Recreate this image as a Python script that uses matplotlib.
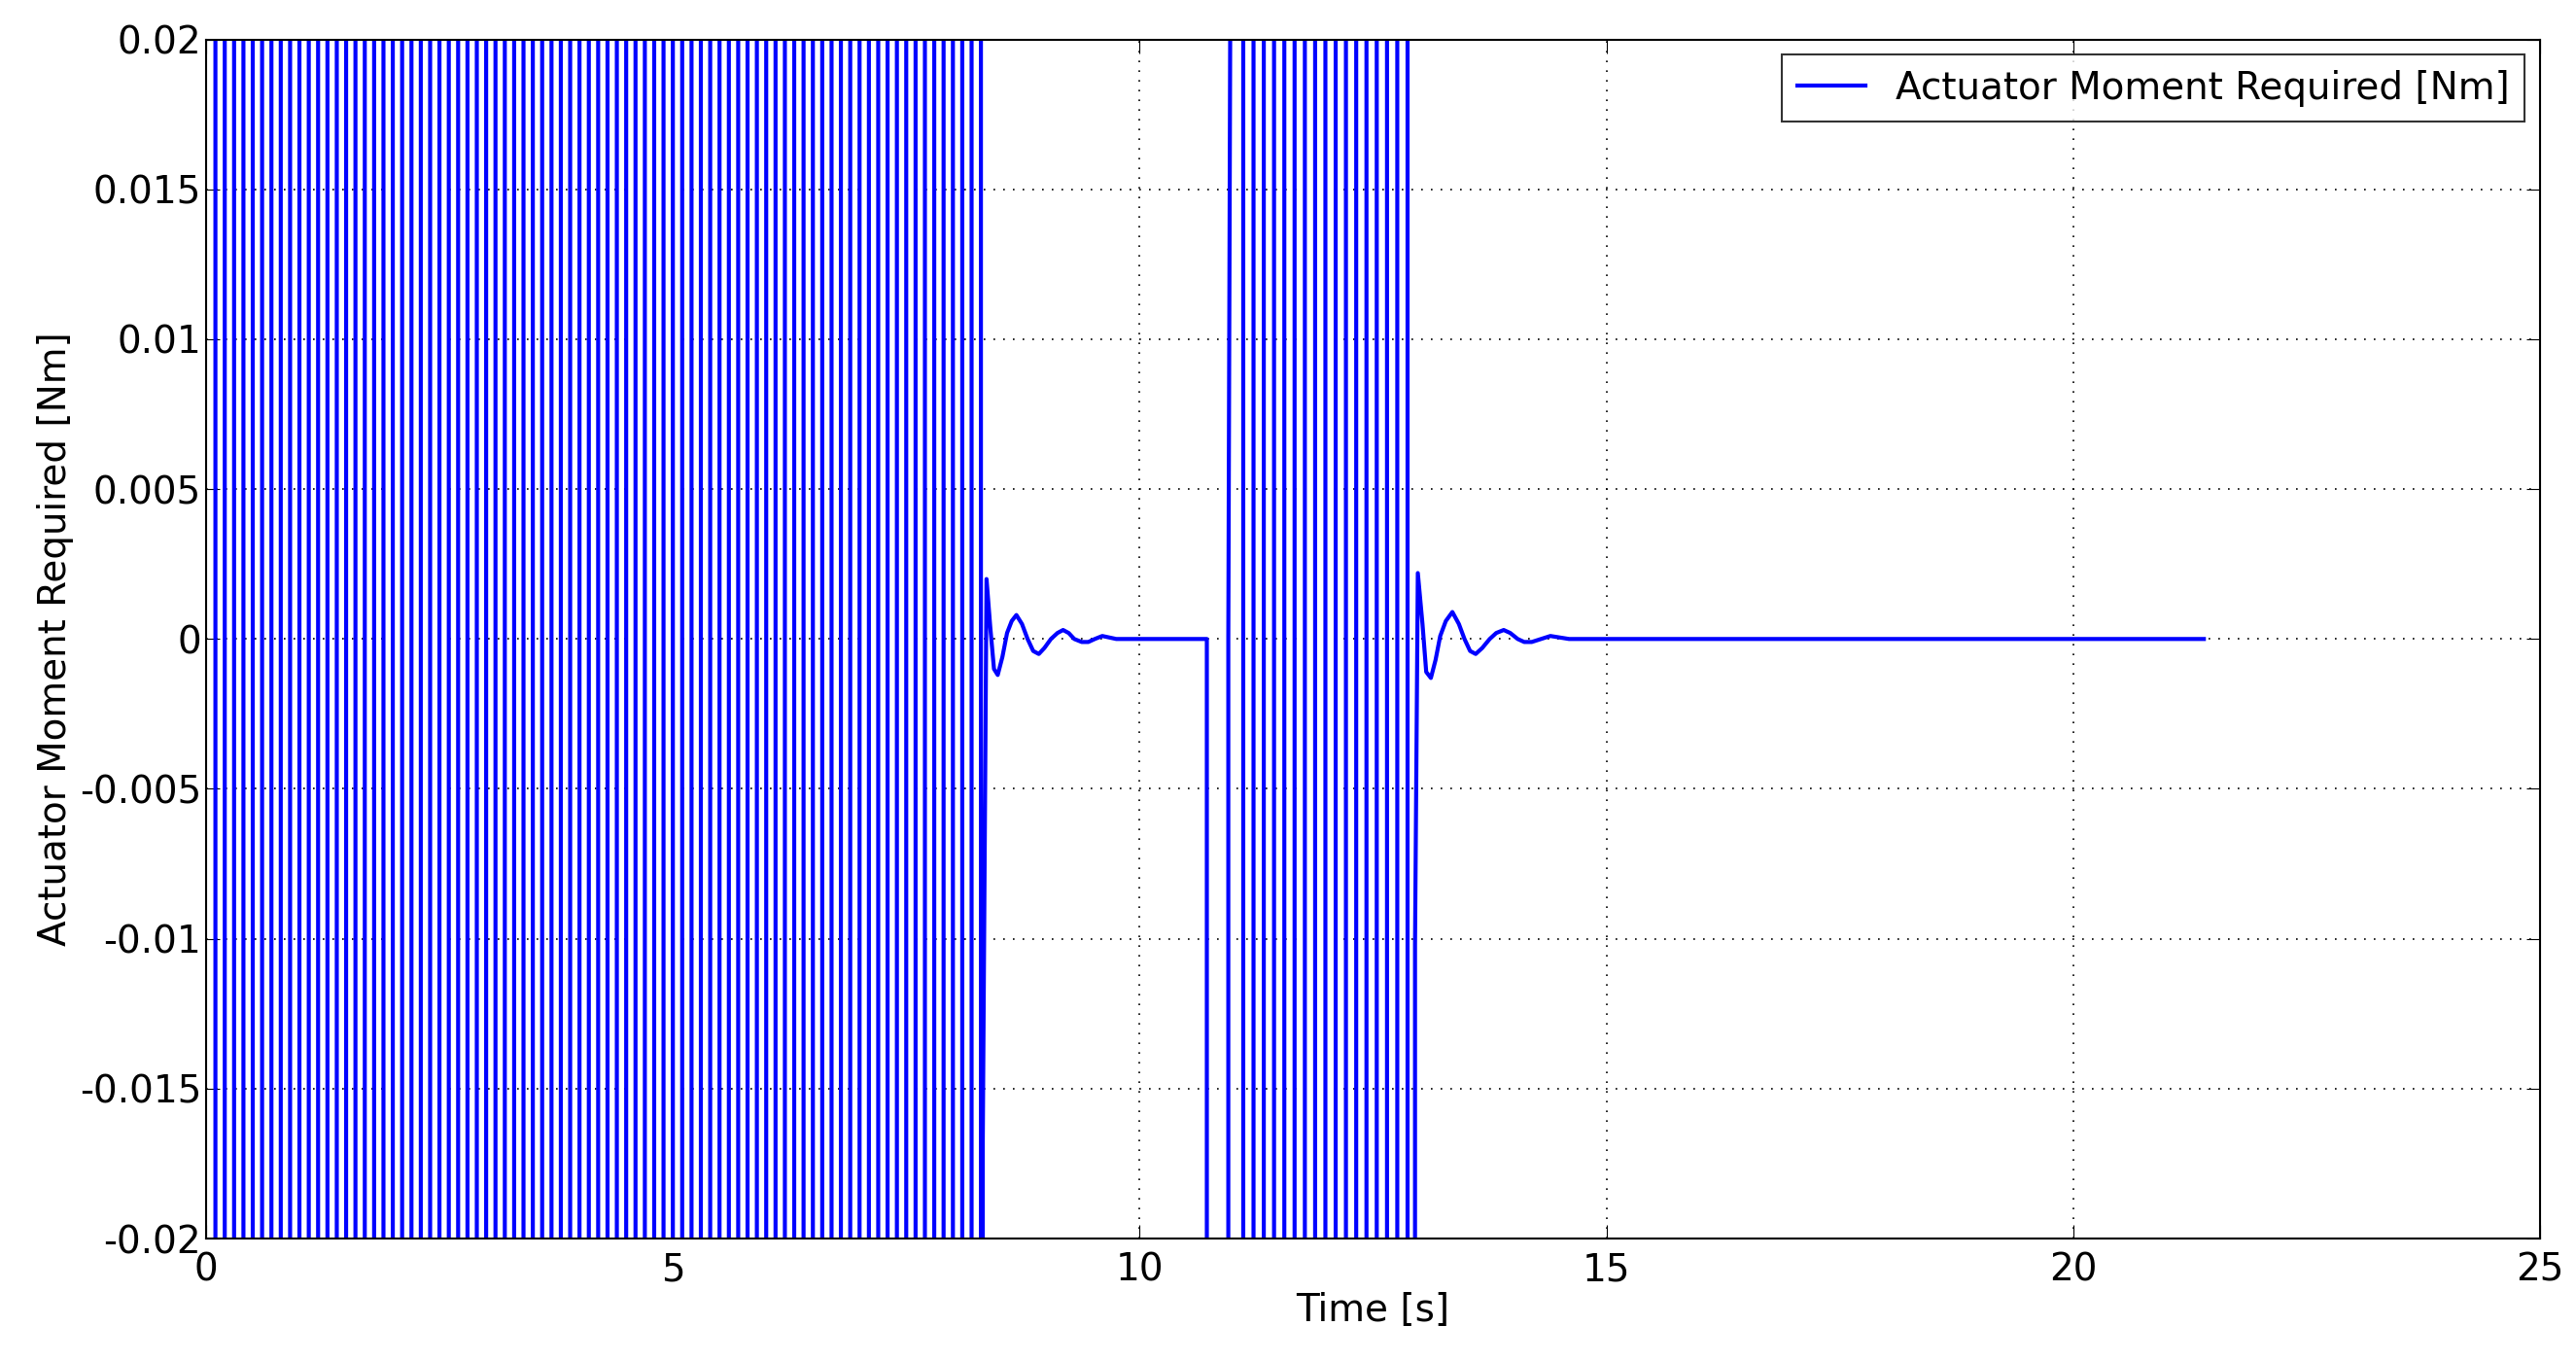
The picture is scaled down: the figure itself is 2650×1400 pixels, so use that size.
import numpy as np
import matplotlib
matplotlib.use("Agg")
import matplotlib.pyplot as plt

# Bang-bang bursts (signal exceeds axis range): start time, end time, switching period [s]
burst_start = [0.0, 11.0]
burst_end = [8.32, 12.95]
burst_period = [0.2, 0.22]
sat_level = 0.05

# Damped response after first burst (time, value)
damp1_t = [8.32, 8.36, 8.40, 8.44, 8.48, 8.53, 8.58, 8.63, 8.68, 8.74, 8.80, 8.86, 8.92, 8.98, 9.05, 9.12, 9.18, 9.24, 9.30, 9.38, 9.45, 9.52, 9.60, 9.75, 10.0, 10.72]
damp1_v = [-0.0167, 0.0020, 0.0004, -0.0010, -0.0012, -0.0006, 0.0002, 0.0006, 0.0008, 0.0005, 0.0000, -0.0004, -0.0005, -0.0003, 0.0000, 0.0002, 0.0003, 0.0002, 0.0000, -0.0001, -0.0001, 0.0000, 0.0001, 0.0, 0.0, 0.0]
# Negative step
step_t = [10.72, 10.72, 10.95, 10.95]
step_v = [0.0, -0.05, -0.05, 0.0]
# Damped response after second burst
damp2_t = [12.95, 12.98, 13.03, 13.07, 13.12, 13.17, 13.22, 13.28, 13.35, 13.42, 13.48, 13.54, 13.60, 13.67, 13.75, 13.82, 13.90, 13.97, 14.05, 14.12, 14.20, 14.30, 14.40, 14.60, 15.0, 21.4]
damp2_v = [-0.0102, 0.0022, 0.0005, -0.0011, -0.0013, -0.0007, 0.0001, 0.0006, 0.0009, 0.0005, 0.0000, -0.0004, -0.0005, -0.0003, 0.0000, 0.0002, 0.0003, 0.0002, 0.0000, -0.0001, -0.0001, 0.0000, 0.0001, 0.0, 0.0, 0.0]

def square(t0, t1, p):
    ts, vs = [], []
    t = t0
    s = 1
    while t < t1:
        ts += [t, min(t + p / 2, t1)]
        vs += [s * sat_level, s * sat_level]
        t += p / 2
        s = -s
    return ts, vs

t_all, v_all = [], []
b1 = square(burst_start[0], burst_end[0], burst_period[0])
t_all += b1[0] + damp1_t + step_t
v_all += b1[1] + damp1_v + step_v
b2 = square(burst_start[1], burst_end[1], burst_period[1])
t_all += b2[0] + damp2_t
v_all += b2[1] + damp2_v

fig = plt.figure(figsize=(26.5, 14), dpi=100)
ax = fig.add_axes([0.08, 0.09, 0.906, 0.881])
ax.plot(t_all, v_all, color="#0000ff", lw=3.0, label="Actuator Moment Required [Nm]")
ax.set_xlim(0, 25)
ax.set_ylim(-0.02, 0.02)
ax.set_xticks([0, 5, 10, 15, 20, 25])
ax.set_yticks(np.arange(-0.02, 0.0201, 0.005))
ax.set_yticklabels(["-0.02", "-0.015", "-0.01", "-0.005", "0", "0.005", "0.01", "0.015", "0.02"])
ax.grid(True, color="black", linestyle=(0, (1, 5)), lw=1.2)
ax.tick_params(labelsize=28, direction="in", length=10, top=True, right=True)
ax.tick_params(axis="x", pad=10)
ax.set_xlabel("Time [s]", fontsize=28, labelpad=2)
ax.set_ylabel("Actuator Moment Required [Nm]", fontsize=28)
for s in ax.spines.values():
    s.set_linewidth(1.5)
leg = ax.legend(loc="upper right", fontsize=28, fancybox=False, edgecolor="black",
                handlelength=1.8, borderaxespad=0.4)
leg.get_frame().set_linewidth(1.5)
fig.savefig("out.png", dpi=100, facecolor="white")
